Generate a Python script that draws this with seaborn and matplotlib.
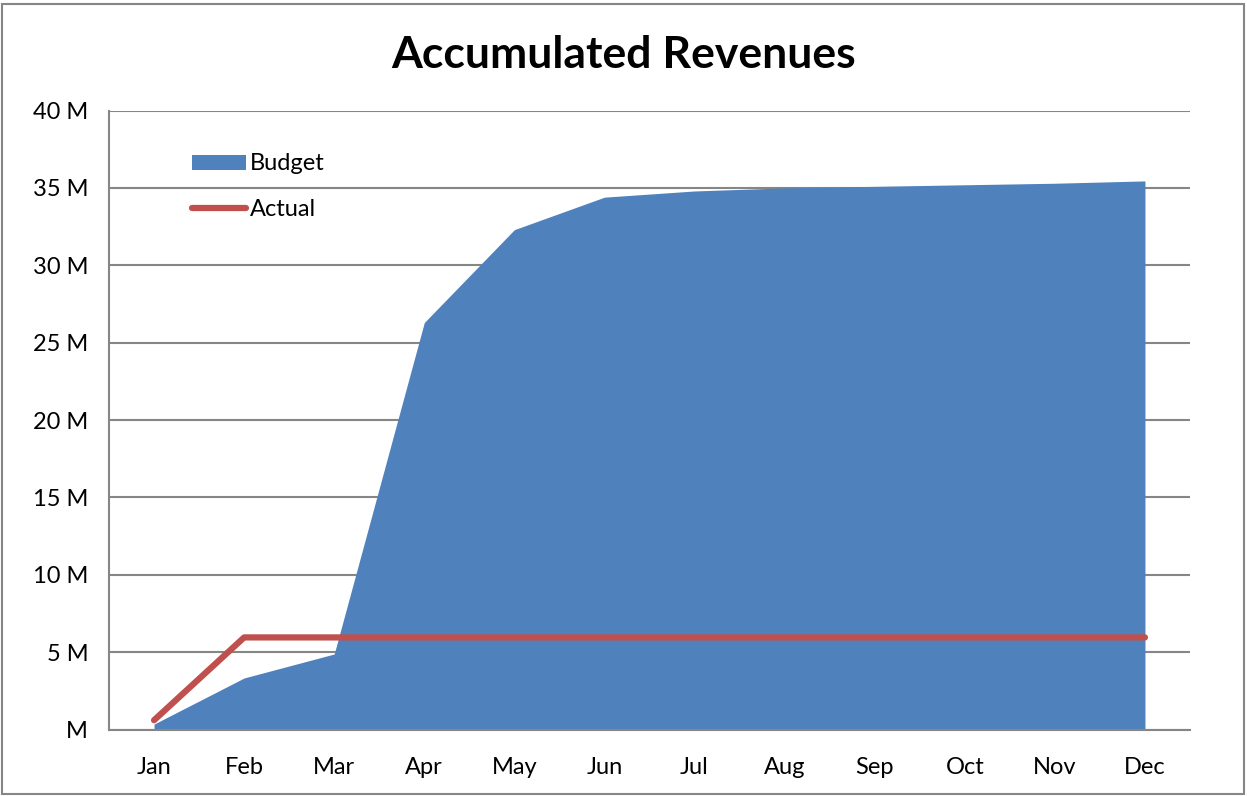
import matplotlib
matplotlib.use("Agg")
import matplotlib.pyplot as plt
import seaborn as sns
import pandas as pd
import numpy as np
from matplotlib.patches import Patch, Rectangle
from matplotlib.lines import Line2D

months = ["Jan", "Feb", "Mar", "Apr", "May", "Jun", "Jul", "Aug", "Sep", "Oct", "Nov", "Dec"]
budget = [0.35, 3.33, 4.88, 26.3, 32.3, 34.4, 34.8, 35.0, 35.1, 35.2, 35.3, 35.45]
actual = [0.6, 5.95, 5.95, 5.95, 5.95, 5.95, 5.95, 5.95, 5.95, 5.95, 5.95, 5.95]
yticks = [0, 5, 10, 15, 20, 25, 30, 35, 40]
ytick_labels = ["M", "5 M", "10 M", "15 M", "20 M", "25 M", "30 M", "35 M", "40 M"]

sns.set_theme(style="white")
plt.rcParams['font.family'] = ['Lato', 'DejaVu Sans']
plt.rcParams['text.color'] = 'black'

df = pd.DataFrame({"month": months, "x": np.arange(len(months)), "Budget": budget, "Actual": actual})

fig = plt.figure(figsize=(12.47, 7.96), dpi=100)
ax = fig.add_axes([109 / 1247, 1 - 729.5 / 796, (1190 - 109) / 1247, (729.5 - 110.5) / 796])

grid_c = "#868686"
blue = "#4F81BD"
red = "#C0504D"

ax.fill_between(df["x"], 0, df["Budget"], color=blue, linewidth=0, zorder=2)
sns.lineplot(data=df, x="x", y="Actual", ax=ax, color=red, linewidth=4.5,
             solid_capstyle="round", zorder=3, legend=False)

ax.set_xlim(-0.5, 11.5)
ax.set_ylim(0, 40)
ax.set_yticks(yticks)
ax.set_yticklabels(ytick_labels)
ax.set_xticks(np.arange(len(months)))
ax.set_xticklabels(months)
ax.set_xticks(np.arange(-0.5, 12, 1), minor=True)
ax.tick_params(axis="x", which="major", length=0, pad=20, labelsize=17, labelcolor="black")
ax.tick_params(axis="x", which="minor", length=7, width=1.5, color=grid_c, direction="out")
ax.tick_params(axis="y", which="major", length=7, width=1.5, color=grid_c, direction="out",
               labelsize=17, pad=8, labelcolor="black")
ax.yaxis.grid(True, color=grid_c, linewidth=1.5, zorder=1)
ax.xaxis.grid(False)
ax.set_axisbelow(True)
for s in ["top", "right"]:
    ax.spines[s].set_visible(False)
for s in ["left", "bottom"]:
    ax.spines[s].set_color(grid_c)
    ax.spines[s].set_linewidth(1.5)
    ax.spines[s].set_zorder(4)
ax.set_xlabel("")
ax.set_ylabel("")

handles = [Patch(facecolor=blue, edgecolor="none"),
           Line2D([0], [0], color=red, linewidth=4.5, solid_capstyle="round")]
leg = ax.legend(handles, ["Budget", "Actual"], loc="upper left",
                bbox_to_anchor=(0.068, 0.946), frameon=False, fontsize=17,
                handlelength=2.3, handleheight=0.6, handletextpad=0.15, labelspacing=1.05,
                borderaxespad=0)
for t in leg.get_texts():
    t.set_color("black")

fig.text(0.5, 1 - 55 / 796, "Accumulated Revenues", ha="center", va="center",
         fontsize=32, fontweight="bold", color="black")

fig.patches.append(Rectangle((2 / 1247, 2 / 796), 1 - 5 / 1247, 1 - 6 / 796,
                             transform=fig.transFigure, fill=False,
                             edgecolor=grid_c, linewidth=1.5, zorder=10))

fig.savefig("out.png", dpi=100)
